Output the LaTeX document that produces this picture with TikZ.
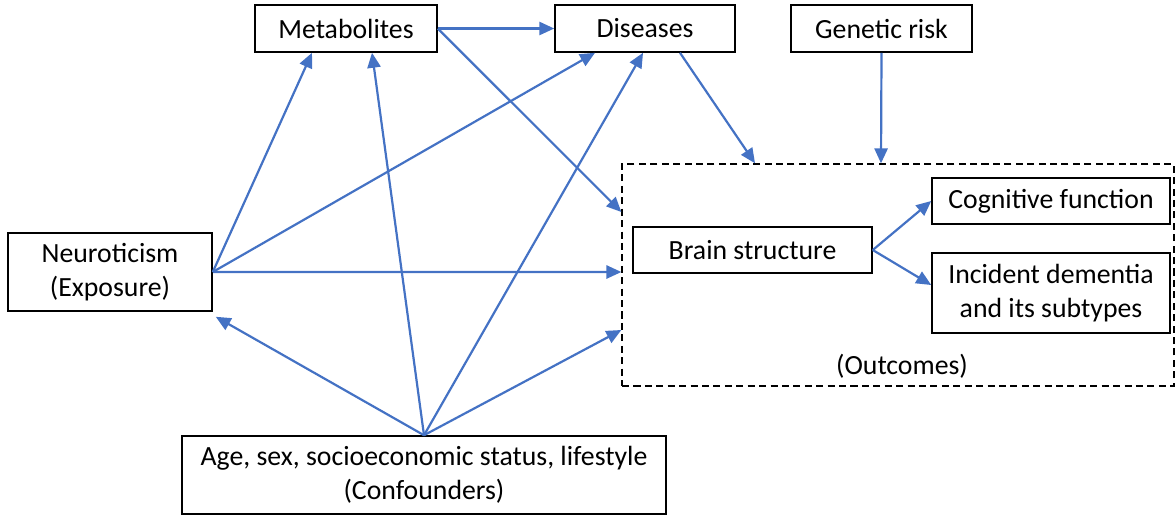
\documentclass[tikz,border=0pt]{standalone}
\usepackage{fontspec}
\setmainfont{Carlito}
\usetikzlibrary{arrows.meta, positioning}
\definecolor{linkblue}{HTML}{4472C4}

\begin{document}
\begin{tikzpicture}[x=0.02cm, y=-0.02cm, font=\fontsize{15.8pt}{19.3pt}\selectfont,
		box/.style={draw, line width=0.9pt, inner sep=0pt, align=center},
		link/.style={draw, line width=1.25pt, linkblue, -{Triangle[length=8.5pt, width=7.5pt]}}]
		\useasboundingbox (0,0) rectangle (1175,518);
		\node[box, minimum width=3.64cm, minimum height=0.94cm] (metabolites) at (346, 28.5) {Metabolites};
		\node[box, minimum width=3.6cm, minimum height=0.94cm] (diseases) at (645, 28.5) {Diseases};
		\node[box, minimum width=3.62cm, minimum height=0.94cm] (genetic) at (881.5, 28.5) {Genetic risk};
		\node[box, minimum width=4.08cm, minimum height=1.56cm] (neuroticism) at (110, 272) {Neuroticism\\(Exposure)};
		\node[draw, line width=0.8pt, dash pattern=on 4pt off 2.5pt, minimum width=11.04cm, minimum height=4.44cm] (outcomes) at (898, 275) {};
		\node (outcomes-label) at (902, 366) {(Outcomes)};
		\node[box, minimum width=4.78cm, minimum height=0.92cm] (brain) at (752.5, 250) {Brain structure};
		\node[box, minimum width=4.76cm, minimum height=0.92cm] (cognitive) at (1051, 201) {Cognitive function};
		\node[box, minimum width=4.76cm, minimum height=1.6cm] (dementia) at (1051, 293) {Incident dementia\\and its subtypes};
		\node[box, minimum width=9.68cm, minimum height=1.56cm] (confounders) at (424, 475) {Age, sex, socioeconomic status, lifestyle\\(Confounders)};
		% mediators
		\path [link] (metabolites.east) -- (diseases.west);
		\path [link] (metabolites.east) -- ([yshift=1.26cm]outcomes.west);
		\path [link] ([xshift=0.7cm]diseases.south) -- ([xshift=-2.86cm]outcomes.north);
		\path [link] (genetic.south) -- ([xshift=-0.34cm]outcomes.north);
		% exposure
		\path [link] (neuroticism.east) -- ([xshift=-0.68cm]metabolites.south);
		\path [link] (neuroticism.east) -- ([xshift=-1cm]diseases.south);
		\path [link] (neuroticism.east) -- ([yshift=0.06cm]outcomes.west);
		% confounders
		\path [link] (confounders.north) -- ([xshift=0.06cm, yshift=-0.1cm]neuroticism.south east);
		\path [link] (confounders.north) -- ([xshift=0.52cm]metabolites.south);
		\path [link] (confounders.north) -- ([xshift=-0.04cm]diseases.south);
		\path [link] (confounders.north) -- ([yshift=-1.1cm]outcomes.west);
		% outcomes
		\path [link] (brain.east) -- (cognitive.west);
		\path [link] (brain.east) -- ([yshift=0.16cm]dementia.west);
	\end{tikzpicture}
\end{document}
